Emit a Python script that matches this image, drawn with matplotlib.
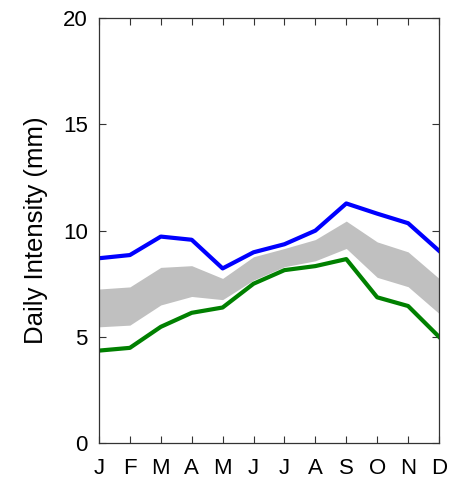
import numpy as np
import matplotlib.pyplot as plt

plt.rcParams['font.family'] = ['Liberation Sans', 'DejaVu Sans']

# Monthly daily intensity (mm)
months = ['J', 'F', 'M', 'A', 'M', 'J', 'J', 'A', 'S', 'O', 'N', 'D']
upper = [8.7, 8.85, 9.72, 9.57, 8.22, 8.98, 9.36, 10.0, 11.28, 10.8, 10.35, 9.05]
lower = [4.35, 4.48, 5.47, 6.13, 6.38, 7.5, 8.14, 8.33, 8.66, 6.86, 6.45, 5.0]
band_hi = [7.25, 7.35, 8.27, 8.35, 7.75, 8.77, 9.16, 9.58, 10.45, 9.47, 9.0, 7.75]
band_lo = [5.47, 5.55, 6.5, 6.9, 6.75, 7.67, 8.3, 8.58, 9.16, 7.8, 7.36, 6.1]

x = np.arange(1, len(months) + 1)

fig = plt.figure(figsize=(4.54, 4.79), dpi=100)
ax = fig.add_axes([0.218, 0.0752, 0.749, 0.8866])

ax.fill_between(x, band_lo, band_hi, color='#c0c0c0', linewidth=0)
ax.plot(x, upper, color='#0000ff', linewidth=3)
ax.plot(x, lower, color='#008000', linewidth=3)

ax.set_xlim(1, 12)
ax.set_ylim(0, 20)
ax.set_xticks(x)
ax.set_xticklabels(months)
ax.set_yticks([0, 5, 10, 15, 20])
ax.set_ylabel('Daily Intensity (mm)', fontsize=18.5, labelpad=11)

ax.tick_params(direction='in', length=5, width=0.8, top=True, right=True,
               labelsize=16, color='#333333')
ax.tick_params(axis='x', pad=11)
ax.tick_params(axis='y', pad=8)
for s in ax.spines.values():
    s.set_color('#333333')
    s.set_linewidth(0.9)

fig.savefig('out.png', dpi=100)
